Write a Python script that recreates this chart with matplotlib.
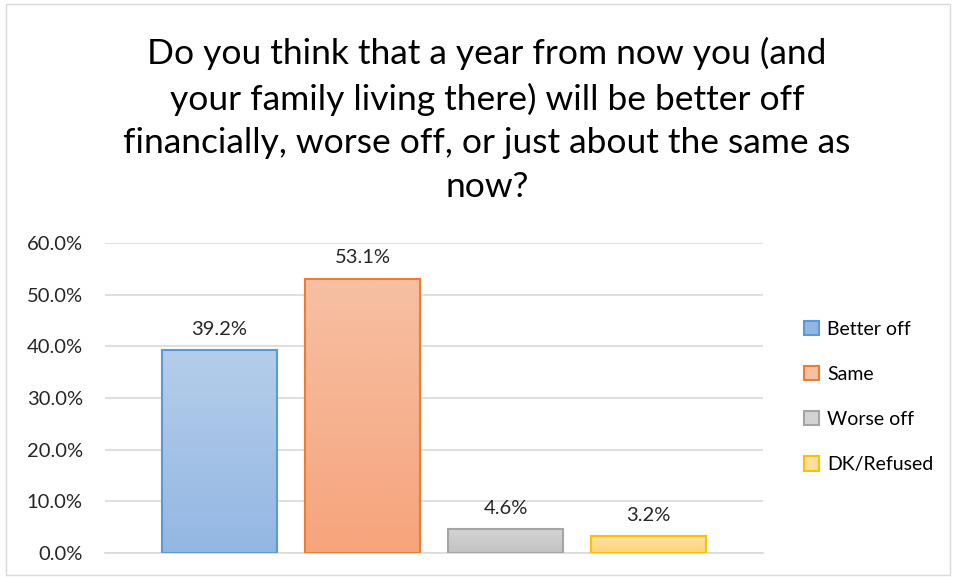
import numpy as np
import matplotlib.pyplot as plt
from matplotlib.patches import Patch, Rectangle
from matplotlib.colors import LinearSegmentedColormap

plt.rcParams['font.family'] = ['Lato', 'DejaVu Sans']

series = ['Better off', 'Same', 'Worse off', 'DK/Refused']
values = [0.392, 0.531, 0.046, 0.032]
top_cols = ['#B5CDEA', '#F6C0A3', '#D3D3D3', '#FFDFA0']
bot_cols = ['#93B7E3', '#F6A47C', '#C3C3C3', '#FFD47E']
edge_cols = ['#5B9BD5', '#ED7D31', '#A5A5A5', '#FFC000']
title = ('Do you think that a year from now you (and\n'
         'your family living there) will be better off\n'
         'financially, worse off, or just about the same as\n'
         'now?')

fig = plt.figure(figsize=(9.54, 5.77), dpi=100)
fig.patches.append(Rectangle((0.006, 0.003), 0.99, 0.99, transform=fig.transFigure,
                             fill=False, edgecolor='#D9D9D9', linewidth=1))
ax = fig.add_axes([105/954, 24/577, 658/954, 310/577])

x = np.arange(len(series))
bars = ax.bar(x, values, width=0.81, facecolor='none', edgecolor=edge_cols,
              linewidth=1.5, zorder=3)
grad = np.linspace(0, 1, 256).reshape(-1, 1)
for b, t, c in zip(bars, top_cols, bot_cols):
    cm = LinearSegmentedColormap.from_list('g', [t, c])
    x0, y0 = b.get_x(), b.get_y()
    im = ax.imshow(grad, cmap=cm, aspect='auto', zorder=2,
                   extent=[x0, x0 + b.get_width(), y0, y0 + b.get_height()],
                   origin='upper')
    im.set_clip_path(b)
    ax.annotate('%.1f%%' % (b.get_height()*100), (b.get_x() + b.get_width()/2, b.get_height()),
                xytext=(0, 9), textcoords='offset points', ha='center', va='bottom',
                fontsize=14.5, color='#262626')

ax.set_xlim(-0.8, 3.8)
ax.set_ylim(0, 0.6)
ax.set_yticks(np.arange(0, 0.61, 0.1))
ax.set_yticklabels(['%.1f%%' % (v*100) for v in np.arange(0, 0.61, 0.1)], fontsize=14.5, color='#262626')
ax.set_xticks([])
ax.tick_params(axis='y', length=0, pad=16)
ax.yaxis.grid(True, color='#D9D9D9', linewidth=1.2, zorder=0)
for s in ['top', 'right', 'left']:
    ax.spines[s].set_visible(False)
ax.spines['bottom'].set_color('#D9D9D9')
ax.spines['bottom'].set_linewidth(1.2)
ax.set_axisbelow(True)

handles = [Patch(facecolor=(t if i else c), edgecolor=e, linewidth=1.5, label=s)
           for i, (s, t, c, e) in enumerate(zip(series, top_cols, bot_cols, edge_cols))]
fig.legend(handles=handles, loc='center left', bbox_to_anchor=(787/954, 1 - 397/577),
           frameon=False, fontsize=14, handlelength=0.75, handleheight=0.75,
           handletextpad=0.4, labelspacing=1.45)

fig.text(487/954, 1 - 120/577, title, ha='center', va='center', fontsize=25.5,
         color='#000000', linespacing=1.45)

fig.savefig('out.png', dpi=100)
